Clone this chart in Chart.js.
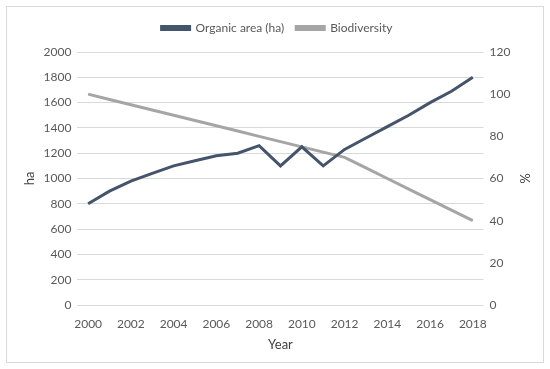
<!DOCTYPE html>
<html>
<head>
<meta charset="utf-8">
<script src="https://cdn.jsdelivr.net/npm/chart.js@4.4.0/dist/chart.umd.min.js"></script>
<style>
  html, body { margin: 0; padding: 0; background: #fff; }
  #wrap { position: relative; width: 550px; height: 369px; }
  #frame { position: absolute; left: 6px; top: 6px; width: 536px; height: 355px; border: 1px solid #d9d9d9; }
  canvas { position: absolute; left: 0; top: 0; }
</style>
</head>
<body>
<div id="wrap">
  <div id="frame"></div>
  <canvas id="graphique" width="550" height="369"></canvas>
</div>
<script>
// données
const years = [2000, 2001, 2002, 2003, 2004, 2005, 2006, 2007, 2008, 2009,
               2010, 2011, 2012, 2013, 2014, 2015, 2016, 2017, 2018];
const organicArea = [800, 900, 980, 1040, 1100, 1140, 1180, 1200, 1260, 1100,
                     1250, 1100, 1230, 1320, 1410, 1500, 1600, 1690, 1800];
const biodiversity = [100, 97.5, 95, 92.5, 90, 87.5, 85, 82.5, 80, 77.5,
                      75, 72.5, 70, 65, 60, 55, 50, 45, 40];

const textColor = '#595959';
const gridColor = '#d9d9d9';
const police = { family: 'Lato', size: 12 };

let graphique = document.getElementById('graphique');

// un peu plus d'espace sous la légende
const margeLegende = {
    id: 'margeLegende',
    beforeInit(chart) {
        const fit = chart.legend.fit;
        chart.legend.fit = function () {
            fit.bind(chart.legend)();
            this.height += 8;
        };
    }
};

new Chart(graphique, {
    type: 'line',
    data: {
        labels: years,
        datasets: [
            {
                label: 'Organic area (ha)',
                data: organicArea,
                borderColor: '#44546a',
                backgroundColor: '#44546a',
                borderWidth: 3,
                pointRadius: 0,
                yAxisID: 'y'
            },
            {
                label: 'Biodiversity',
                data: biodiversity,
                borderColor: '#a5a5a5',
                backgroundColor: '#a5a5a5',
                borderWidth: 3,
                pointRadius: 0,
                yAxisID: 'y2'
            }
        ]
    },
    options: {
        responsive: false,
        animation: false,
        layout: { padding: { left: 22, right: 18, top: 10, bottom: 12 } },
        plugins: {
            legend: {
                position: 'top',
                labels: { color: textColor, font: police, boxWidth: 28, boxHeight: 3, padding: 12 }
            },
            tooltip: { enabled: false }
        },
        scales: {
            x: {
                offset: true,
                grid: { display: false },
                border: { display: false },
                ticks: {
                    color: textColor, font: police, autoSkip: false, maxRotation: 0, padding: 4,
                    callback: function (v, i) { return i % 2 === 0 ? years[i] : ''; }
                },
                title: { display: true, text: 'Year', color: '#404040', font: { family: 'Lato', size: 13 }, padding: { top: 2 } }
            },
            y: {
                position: 'left',
                min: 0, max: 2000,
                ticks: { stepSize: 200, color: textColor, font: police, padding: 6,
                         callback: function (v) { return String(v); } },
                grid: { color: gridColor, drawTicks: false, lineWidth: 1 },
                border: { display: false },
                title: { display: true, text: 'ha', color: '#404040', font: { family: 'Lato', size: 13 }, padding: 0 }
            },
            y2: {
                position: 'right',
                min: 0, max: 120,
                ticks: { stepSize: 20, color: textColor, font: police, padding: 6 },
                grid: { display: false, drawTicks: false },
                border: { display: false },
                title: { display: true, text: '%', color: '#404040', font: { family: 'Lato', size: 13 }, padding: 0 }
            }
        }
    },
    plugins: [margeLegende]
});
</script>
</body>
</html>
